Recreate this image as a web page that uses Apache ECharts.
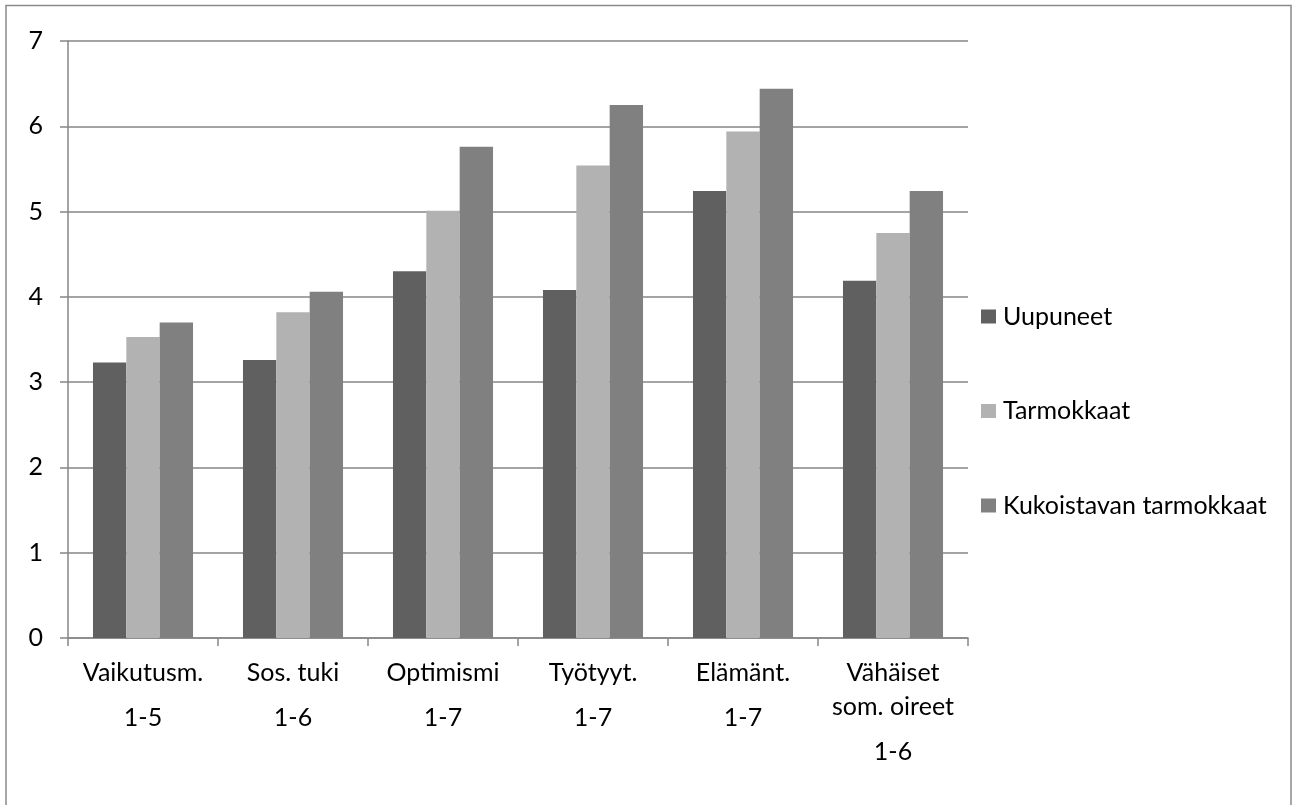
<!DOCTYPE html>
<html>
<head>
<meta charset="utf-8">
<script src="https://cdn.jsdelivr.net/npm/echarts@6/dist/echarts.min.js"></script>
<style>
  html, body { margin: 0; padding: 0; background: #fff; }
  #chart { width: 1292px; height: 805px; }
</style>
</head>
<body>
<div id="chart"></div>
<script>
// Measure names and their response scales
const categories = ['Vaikutusm.', 'Sos. tuki', 'Optimismi', 'Työtyyt.', 'Elämänt.', 'Vähäiset\nsom. oireet'];
const scales = ['1-5', '1-6', '1-7', '1-7', '1-7', '1-6'];

// Group means
const seriesNames = ['Uupuneet', 'Tarmokkaat', 'Kukoistavan tarmokkaat'];
const uupuneet = [3.23, 3.26, 4.30, 4.08, 5.24, 4.19];
const tarmokkaat = [3.53, 3.82, 5.01, 5.54, 5.94, 4.75];
const kukoistavat = [3.70, 4.06, 5.76, 6.25, 6.44, 5.24];

const colors = ['#606060', '#b2b2b2', '#808080'];
const font = 'Lato, "Noto Sans", sans-serif';

const chart = echarts.init(document.getElementById('chart'), null, { renderer: 'canvas' });

const bar = (name, data, color) => ({
  name, type: 'bar', data,
  barGap: '0%', barCategoryGap: '33.3%',
  itemStyle: { color },
  emphasis: { disabled: true }
});

chart.setOption({
  animation: false,
  backgroundColor: '#ffffff',
  textStyle: { fontFamily: font },
  graphic: [{
    type: 'rect',
    shape: { x: 6, y: 5.5, width: 1285, height: 810 },
    style: { fill: 'none', stroke: '#8a8a8a', lineWidth: 1.5 },
    silent: true
  }],
  grid: { left: 68, right: 324, top: 41, bottom: 167, containLabel: false },
  legend: {
    orient: 'vertical',
    left: 981,
    top: 304,
    padding: 0,
    itemWidth: 15,
    itemHeight: 14,
    itemGap: 69.5,
    icon: 'rect',
    data: seriesNames,
    textStyle: { fontFamily: font, fontSize: 25, lineHeight: 25, color: '#000', padding: [0, 0, 0, 2] }
  },
  xAxis: {
    type: 'category',
    data: categories,
    axisLine: { lineStyle: { color: '#868686', width: 1.5 } },
    axisTick: { show: true, length: 8, lineStyle: { color: '#868686', width: 1.5 } },
    axisLabel: {
      interval: 0,
      margin: 18,
      formatter: (v, i) => '{n|' + v + '}\n{s|' + scales[i] + '}',
      rich: {
        n: { fontFamily: font, fontSize: 25, color: '#000', lineHeight: 34 },
        s: { fontFamily: font, fontSize: 25, color: '#000', lineHeight: 56 }
      }
    }
  },
  yAxis: {
    type: 'value',
    min: 0, max: 7, interval: 1,
    axisLine: { show: true, lineStyle: { color: '#868686', width: 1.5 } },
    axisTick: { show: true, length: 8, lineStyle: { color: '#868686', width: 1.5 } },
    splitLine: { lineStyle: { color: '#868686', width: 1.5 } },
    axisLabel: { margin: 25, fontFamily: font, fontSize: 25, color: '#000' }
  },
  series: [
    bar(seriesNames[0], uupuneet, colors[0]),
    bar(seriesNames[1], tarmokkaat, colors[1]),
    bar(seriesNames[2], kukoistavat, colors[2])
  ]
});
</script>
</body>
</html>
